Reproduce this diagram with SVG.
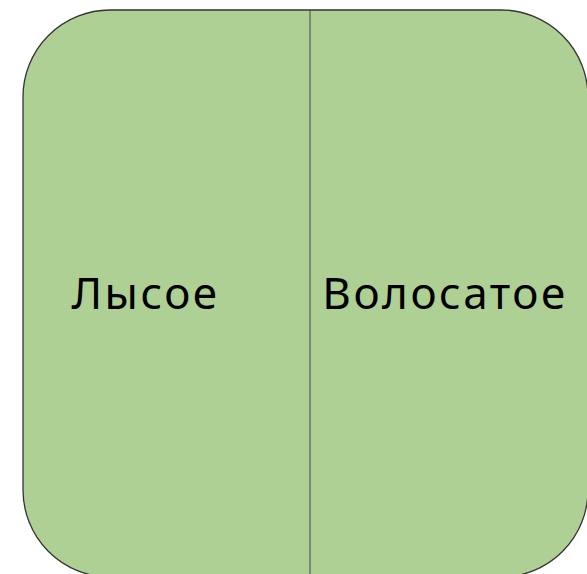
<svg xmlns="http://www.w3.org/2000/svg" width="587" height="574" viewBox="0 0 587 574">
  <style>
    .box { fill: #afd095; stroke: #333333; stroke-width: 1.3; }
    .divider { stroke: #444444; stroke-width: 1; fill: none; }
    .label { font-family: "Noto Sans", "Open Sans", sans-serif; font-size: 44px; fill: #000000; text-anchor: middle; letter-spacing: 2.5px; }
  </style>
  <g id="panel">
    <rect class="box" x="23" y="10" width="565" height="567" rx="87" ry="87"/>
  </g>
  <g id="connectors">
    <line class="divider" x1="310" y1="10" x2="310" y2="577"/>
  </g>
  <g id="bald">
    <text class="label" x="145.5" y="309">Лысое</text>
  </g>
  <g id="hairy">
    <text class="label" x="445" y="309">Волосатое</text>
  </g>
</svg>
